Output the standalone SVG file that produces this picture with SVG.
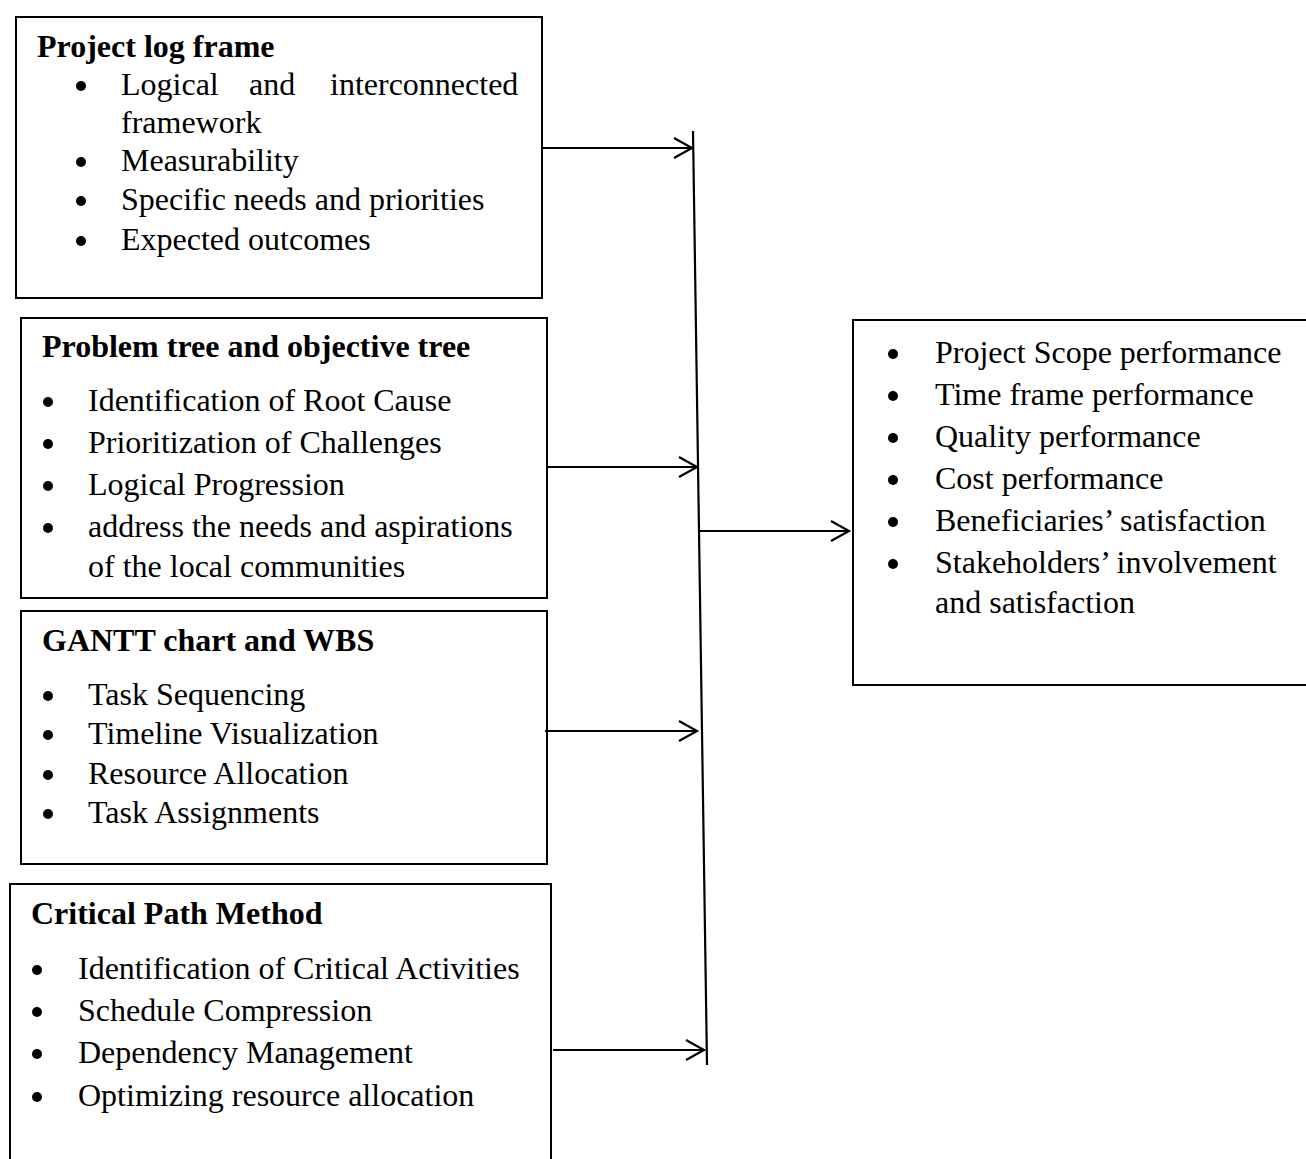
<svg xmlns="http://www.w3.org/2000/svg" width="1306" height="1159" viewBox="0 0 1306 1159">
<style>
.box{fill:#fff;stroke:#000;stroke-width:2}
text{font-family:"Liberation Serif","Times New Roman",serif;font-size:32px;fill:#000}
.t{font-weight:bold}
.c{stroke:#000;stroke-width:2.2;fill:none}
.b{fill:#000}
</style>
<defs>
<marker id="ah" markerWidth="24" markerHeight="24" refX="20" refY="10" orient="auto" markerUnits="userSpaceOnUse" viewBox="0 0 24 20">
<path d="M2,0 L20,10 L2,20" fill="none" stroke="#000" stroke-width="2.2"/>
</marker>
</defs>
<rect width="1306" height="1159" fill="#fff"/>
<g id="node-logframe">
<rect class="box" x="16" y="17" width="526" height="281"/>
<text class="t" x="37" y="57">Project log frame</text>
<circle class="b" cx="81" cy="86" r="5"/><text x="121" y="95">Logical</text><text x="249" y="95">and</text><text x="330" y="95">interconnected</text>
<text x="121" y="133">framework</text>
<circle class="b" cx="81" cy="162" r="5"/><text x="121" y="171">Measurability</text>
<circle class="b" cx="81" cy="201" r="5"/><text x="121" y="210">Specific needs and priorities</text>
<circle class="b" cx="81" cy="241" r="5"/><text x="121" y="250">Expected outcomes</text>
</g>
<g id="node-problemtree">
<rect class="box" x="21" y="318" width="526" height="280"/>
<text class="t" x="42" y="357">Problem tree and objective tree</text>
<circle class="b" cx="48" cy="402" r="5"/><text x="88" y="411">Identification of Root Cause</text>
<circle class="b" cx="48" cy="444" r="5"/><text x="88" y="453">Prioritization of Challenges</text>
<circle class="b" cx="48" cy="486" r="5"/><text x="88" y="495">Logical Progression</text>
<circle class="b" cx="48" cy="528" r="5"/><text x="88" y="537">address the needs and aspirations</text>
<text x="88" y="577">of the local communities</text>
</g>
<g id="node-gantt">
<rect class="box" x="21" y="611" width="526" height="253"/>
<text class="t" x="42" y="651">GANTT chart and WBS</text>
<circle class="b" cx="48" cy="696" r="5"/><text x="88" y="705">Task Sequencing</text>
<circle class="b" cx="48" cy="735" r="5"/><text x="88" y="744">Timeline Visualization</text>
<circle class="b" cx="48" cy="775" r="5"/><text x="88" y="784">Resource Allocation</text>
<circle class="b" cx="48" cy="814" r="5"/><text x="88" y="823">Task Assignments</text>
</g>
<g id="node-cpm">
<rect class="box" x="10" y="884" width="541" height="290"/>
<text class="t" x="31" y="924">Critical Path Method</text>
<circle class="b" cx="37" cy="970" r="5"/><text x="78" y="979">Identification of Critical Activities</text>
<circle class="b" cx="37" cy="1012" r="5"/><text x="78" y="1021">Schedule Compression</text>
<circle class="b" cx="37" cy="1054" r="5"/><text x="78" y="1063">Dependency Management</text>
<circle class="b" cx="37" cy="1097" r="5"/><text x="78" y="1106">Optimizing resource allocation</text>
</g>
<g id="node-performance">
<rect class="box" x="853" y="320" width="470" height="365"/>
<circle class="b" cx="893" cy="354" r="5"/><text x="935" y="363">Project Scope performance</text>
<circle class="b" cx="893" cy="396" r="5"/><text x="935" y="405">Time frame performance</text>
<circle class="b" cx="893" cy="438" r="5"/><text x="935" y="447">Quality performance</text>
<circle class="b" cx="893" cy="480" r="5"/><text x="935" y="489">Cost performance</text>
<circle class="b" cx="893" cy="522" r="5"/><text x="935" y="531">Beneficiaries’ satisfaction</text>
<circle class="b" cx="893" cy="564" r="5"/><text x="935" y="573">Stakeholders’ involvement</text>
<text x="935" y="613">and satisfaction</text>
</g>
<g id="connectors">
<line class="c" x1="693" y1="131" x2="707" y2="1065"/>
<line class="c" x1="542" y1="148" x2="692" y2="148" marker-end="url(#ah)"/>
<line class="c" x1="547" y1="467" x2="697" y2="467" marker-end="url(#ah)"/>
<line class="c" x1="545" y1="731" x2="697" y2="731" marker-end="url(#ah)"/>
<line class="c" x1="553" y1="1050" x2="704" y2="1050" marker-end="url(#ah)"/>
<line class="c" x1="700" y1="531" x2="849" y2="531" marker-end="url(#ah)"/>
</g>
</svg>
